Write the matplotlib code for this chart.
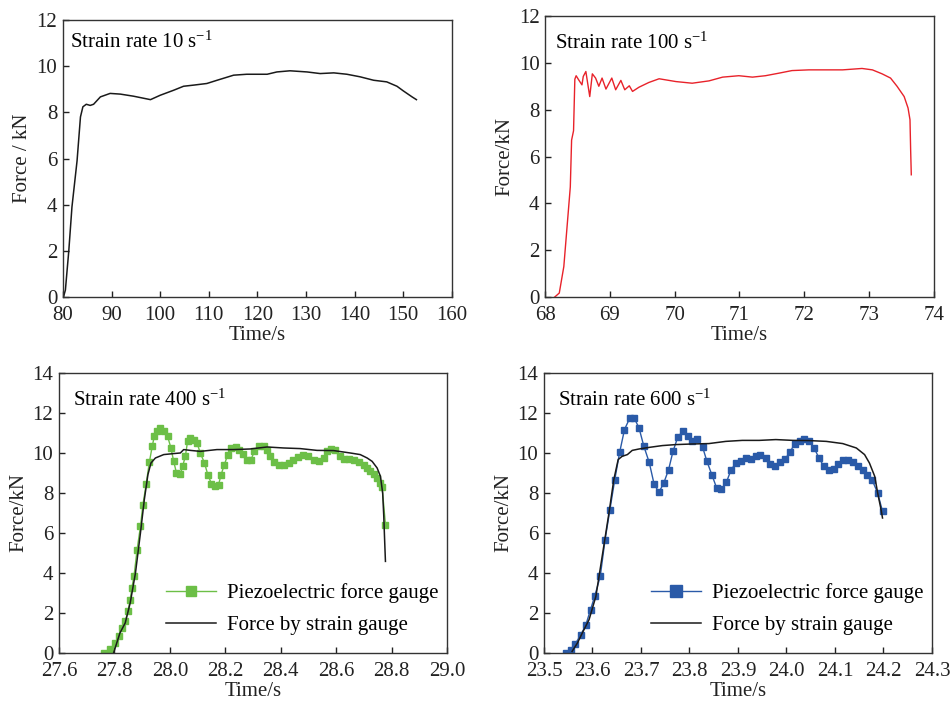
import matplotlib
matplotlib.use('Agg')
import matplotlib.pyplot as plt
import numpy as np

plt.rcParams['font.family'] = ['Liberation Serif', 'DejaVu Serif']
plt.rcParams['mathtext.fontset'] = 'custom'
plt.rcParams['mathtext.rm'] = 'Liberation Serif'
plt.rcParams['mathtext.it'] = 'Liberation Serif:italic'
plt.rcParams['font.size'] = 15

# ---- strain rate 10 /s
t10 = [80.1, 80.5, 81.2, 81.85, 82.9, 83.6, 84.1, 84.8, 85.6, 86.3, 87.7, 89.7, 91.8, 94.5,
       98.0, 100.0, 102.8, 104.8, 106.9, 109.6, 111.7, 115.1, 117.8, 122.0, 124.0, 126.7,
       130.2, 132.9, 135.7, 138.4, 141.1, 143.9, 146.6, 148.7, 150.0, 151.8, 152.7]
f10 = [0.0, 0.3, 2.0, 3.9, 5.9, 7.8, 8.24, 8.35, 8.3, 8.35, 8.67, 8.82, 8.79, 8.7,
       8.55, 8.74, 8.96, 9.13, 9.18, 9.25, 9.39, 9.61, 9.65, 9.65, 9.75, 9.8,
       9.75, 9.68, 9.71, 9.65, 9.54, 9.39, 9.32, 9.13, 8.93, 8.67, 8.55]

# ---- strain rate 100 /s
t100 = [68.15, 68.22, 68.29, 68.34, 68.39, 68.41, 68.44, 68.46, 68.48, 68.52, 68.57, 68.59,
        68.63, 68.65, 68.69, 68.73, 68.78, 68.83, 68.88, 68.94, 69.03, 69.09, 69.17, 69.23,
        69.30, 69.35, 69.45, 69.60, 69.76, 70.02, 70.27, 70.53, 70.74, 70.99, 71.20, 71.40,
        71.61, 71.81, 72.07, 72.33, 72.59, 72.89, 73.05, 73.20, 73.33, 73.43, 73.54, 73.60,
        73.63, 73.64, 73.65]
f100 = [0.0, 0.17, 1.3, 3.0, 4.7, 6.7, 7.1, 9.3, 9.45, 9.27, 9.06, 9.42,
        9.63, 9.27, 8.56, 9.53, 9.35, 9.0, 9.35, 8.88, 9.35, 8.85, 9.25, 8.85,
        9.02, 8.78, 8.96, 9.16, 9.32, 9.2, 9.13, 9.23, 9.39, 9.45, 9.39, 9.45,
        9.56, 9.67, 9.7, 9.7, 9.7, 9.76, 9.7, 9.53, 9.35, 9.0, 8.56, 8.07,
        7.57, 6.29, 5.22]

# ---- strain rate 400 /s
t400_p = [27.761, 27.785, 27.803, 27.815, 27.827, 27.839, 27.849, 27.857, 27.863, 27.871,
          27.882, 27.894, 27.903, 27.915, 27.926, 27.937, 27.944, 27.954, 27.966, 27.978,
          27.992, 28.004, 28.014, 28.024, 28.038, 28.046, 28.056, 28.064, 28.074, 28.086,
          28.098, 28.110, 28.125, 28.137, 28.150, 28.164, 28.176, 28.185, 28.197, 28.209,
          28.221, 28.237, 28.249, 28.263, 28.279, 28.293, 28.305, 28.321, 28.339, 28.351,
          28.363, 28.377, 28.393, 28.411, 28.429, 28.446, 28.464, 28.482, 28.500, 28.519,
          28.537, 28.555, 28.567, 28.581, 28.597, 28.613, 28.627, 28.645, 28.664, 28.682,
          28.700, 28.712, 28.724, 28.736, 28.748, 28.758, 28.766, 28.778]
f400_p = [0.0, 0.2, 0.5, 0.83, 1.25, 1.58, 2.08, 2.67, 3.25, 3.87,
          5.17, 6.33, 7.42, 8.47, 9.53, 10.37, 10.83, 11.08, 11.25, 11.08,
          10.83, 10.25, 9.58, 9.0, 8.97, 9.33, 9.83, 10.58, 10.75, 10.67,
          10.5, 10.0, 9.5, 8.92, 8.47, 8.37, 8.42, 8.92, 9.42, 9.92,
          10.25, 10.3, 10.17, 9.97, 9.63, 9.67, 10.08, 10.33, 10.37, 10.17,
          9.83, 9.53, 9.42, 9.42, 9.5, 9.63, 9.8, 9.9, 9.87, 9.67,
          9.58, 9.75, 10.08, 10.2, 10.13, 9.83, 9.7, 9.7, 9.67, 9.57,
          9.42, 9.25, 9.08, 8.97, 8.75, 8.5, 8.28, 6.42]
t400_s = [27.797, 27.820, 27.839, 27.857, 27.876, 27.894, 27.908, 27.921, 27.932, 27.948,
          27.978, 28.014, 28.038, 28.050, 28.074, 28.110, 28.170, 28.230, 28.290, 28.351,
          28.411, 28.470, 28.531, 28.591, 28.651, 28.687, 28.712, 28.730, 28.748, 28.760,
          28.768, 28.772, 28.775, 28.778]
f400_s = [0.0, 1.0, 1.5, 2.5, 4.0, 6.0, 7.67, 8.92, 9.5, 9.75,
          9.92, 9.97, 10.0, 10.17, 10.13, 10.08, 10.17, 10.17, 10.2, 10.3,
          10.25, 10.22, 10.13, 10.12, 10.0, 9.92, 9.75, 9.58, 9.25, 8.83,
          8.0, 6.83, 5.67, 4.58]

# ---- strain rate 600 /s
t600_p = [23.546, 23.556, 23.565, 23.576, 23.586, 23.596, 23.605, 23.616, 23.626, 23.636,
          23.646, 23.656, 23.666, 23.677, 23.686, 23.696, 23.706, 23.717, 23.727, 23.737,
          23.747, 23.757, 23.766, 23.776, 23.786, 23.796, 23.806, 23.816, 23.827, 23.836,
          23.846, 23.856, 23.866, 23.876, 23.886, 23.896, 23.906, 23.916, 23.926, 23.937,
          23.946, 23.957, 23.966, 23.977, 23.987, 23.997, 24.007, 24.017, 24.027, 24.037,
          24.047, 24.057, 24.067, 24.077, 24.087, 24.097, 24.107, 24.117, 24.127, 24.138,
          24.147, 24.158, 24.167, 24.177, 24.188, 24.198]
f600_p = [0.0, 0.17, 0.47, 0.92, 1.38, 2.17, 2.87, 3.83, 5.67, 7.17,
          8.67, 10.03, 11.17, 11.75, 11.75, 11.25, 10.33, 9.53, 8.45, 8.03,
          8.5, 9.17, 10.08, 10.8, 11.08, 10.83, 10.58, 10.7, 10.3, 9.58,
          8.92, 8.25, 8.2, 8.53, 9.17, 9.5, 9.58, 9.75, 9.7, 9.83,
          9.92, 9.75, 9.45, 9.37, 9.53, 9.7, 10.03, 10.47, 10.58, 10.7,
          10.58, 10.25, 9.75, 9.33, 9.17, 9.2, 9.47, 9.67, 9.63, 9.53,
          9.33, 9.17, 8.92, 8.63, 8.0, 7.08]
t600_s = [23.558, 23.569, 23.579, 23.593, 23.607, 23.620, 23.634, 23.644, 23.653, 23.661,
          23.672, 23.682, 23.696, 23.717, 23.744, 23.772, 23.806, 23.840, 23.875, 23.909,
          23.944, 23.978, 24.013, 24.047, 24.082, 24.116, 24.144, 24.161, 24.171, 24.182,
          24.188, 24.195, 24.198]
f600_s = [0.08, 0.5, 1.0, 1.67, 2.83, 4.83, 7.0, 8.67, 9.67, 9.83,
          9.92, 10.13, 10.2, 10.28, 10.37, 10.42, 10.45, 10.47, 10.58, 10.63,
          10.63, 10.67, 10.63, 10.62, 10.58, 10.47, 10.25, 9.92, 9.5, 8.83,
          8.0, 7.17, 6.75]

fig = plt.figure(figsize=(9.51, 7.02), dpi=100)
ax1 = fig.add_axes([0.0662, 0.5769, 0.409, 0.3946])
ax2 = fig.add_axes([0.5731, 0.5769, 0.409, 0.4003])
ax3 = fig.add_axes([0.0620, 0.0698, 0.408, 0.3989])
ax4 = fig.add_axes([0.5720, 0.0698, 0.408, 0.3989])


def style(ax, xlim, xticks, ylim, yticks, ylabel, fmt=None):
    ax.set_xlim(*xlim)
    ax.set_ylim(*ylim)
    ax.set_xticks(xticks)
    ax.set_yticks(yticks)
    if fmt:
        ax.set_xticklabels([fmt % v for v in xticks])
    ax.tick_params(direction='in', length=4, width=1, colors='#222222',
                   labelsize=15, labelcolor='#222222')
    ax.tick_params(axis='x', pad=6.5)
    ax.tick_params(axis='y', pad=4)
    for s in ax.spines.values():
        s.set_color('#333333')
        s.set_linewidth(1)
    ax.set_xlabel('Time/s', labelpad=1, color='#222222')
    ax.set_ylabel(ylabel, labelpad=3, color='#222222')


ax1.plot(t10, f10, color='#1a1a1a', lw=1.1)
style(ax1, (80, 160), np.arange(80, 161, 10), (0, 12), np.arange(0, 13, 2), 'Force / kN')
ax1.text(0.018, 0.92, r'Strain rate 10 s$^{\mathregular{-1}}$', transform=ax1.transAxes,
         va='center', ha='left', fontsize=15)

ax2.plot(t100, f100, color='#e8222a', lw=1.0)
style(ax2, (68, 74), np.arange(68, 75, 1), (0, 12), np.arange(0, 13, 2), 'Force/kN')
ax2.text(0.026, 0.904, r'Strain rate 100 s$^{\mathregular{-1}}$', transform=ax2.transAxes,
         va='center', ha='left', fontsize=15)

green = '#6cbf47'
ax3.plot(t400_p, f400_p, color=green, lw=1.0, marker='s', ms=4.5,
         label='Piezoelectric force gauge')
ax3.plot(t400_s, f400_s, color='#1a1a1a', lw=1.1, label='Force by strain gauge')
style(ax3, (27.6, 29.0), np.round(np.arange(27.6, 29.01, 0.2), 1), (0, 14),
      np.arange(0, 15, 2), 'Force/kN', fmt='%.1f')
ax3.text(0.036, 0.904, r'Strain rate 400 s$^{\mathregular{-1}}$', transform=ax3.transAxes,
         va='center', ha='left', fontsize=15)
ax3.legend(loc='lower right', bbox_to_anchor=(1.01, 0.02), frameon=False, fontsize=15,
           handlelength=2.4, handletextpad=0.5, markerscale=1.7, labelspacing=0.6,
           borderaxespad=0.2)

blue = '#2a5aa8'
ax4.plot(t600_p, f600_p, color=blue, lw=1.0, marker='s', ms=5,
         label='Piezoelectric force gauge')
ax4.plot(t600_s, f600_s, color='#1a1a1a', lw=1.1, label='Force by strain gauge')
style(ax4, (23.5, 24.3), np.round(np.arange(23.5, 24.31, 0.1), 1), (0, 14),
      np.arange(0, 15, 2), 'Force/kN', fmt='%.1f')
ax4.text(0.036, 0.904, r'Strain rate 600 s$^{\mathregular{-1}}$', transform=ax4.transAxes,
         va='center', ha='left', fontsize=15)
ax4.legend(loc='lower right', bbox_to_anchor=(1.01, 0.02), frameon=False, fontsize=15,
           handlelength=2.4, handletextpad=0.5, markerscale=1.6, labelspacing=0.6,
           borderaxespad=0.2)

fig.savefig('out.png', dpi=100)
